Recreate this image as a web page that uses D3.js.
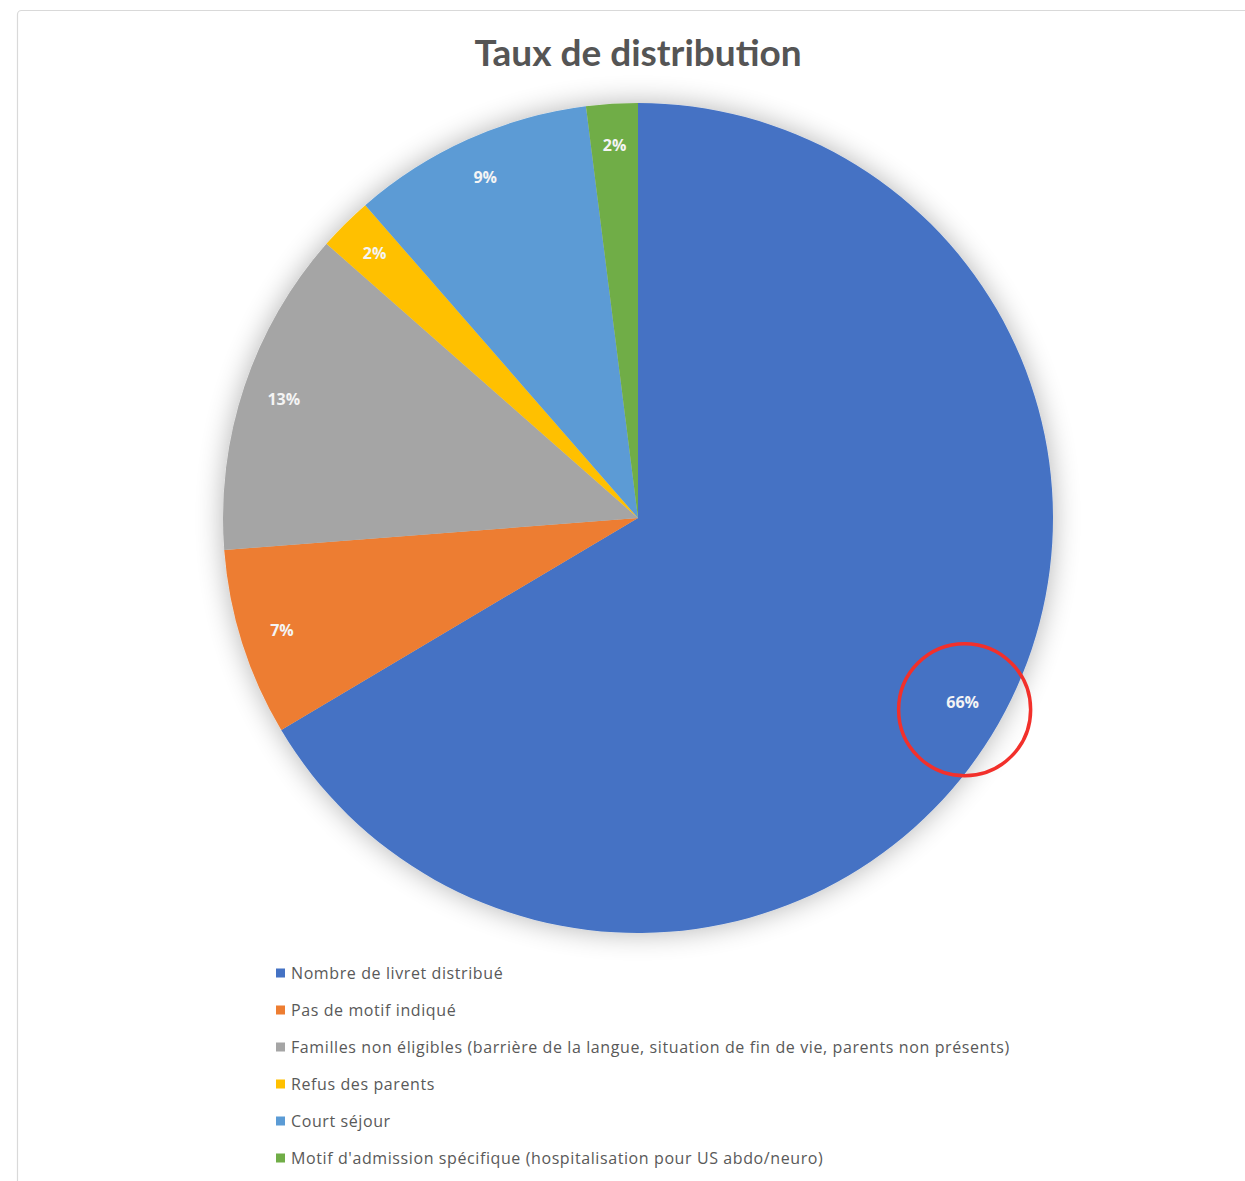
<!DOCTYPE html>
<html>
<head>
<meta charset="utf-8">
<script src="https://cdn.jsdelivr.net/npm/d3@7"></script>
<style>
  body { margin: 0; background: #fff; }
  svg { display: block; }
</style>
</head>
<body>
<div id="chart"></div>
<script>
// values (share of the total, in %)
const categories = [
  "Nombre de livret distribué",
  "Pas de motif indiqué",
  "Familles non éligibles (barrière de la langue, situation de fin de vie, parents non présents)",
  "Refus des parents",
  "Court séjour",
  "Motif d'admission spécifique (hospitalisation pour US abdo/neuro)"
];
const values = [66.4, 7.3, 12.7, 2.1, 9.4, 2.0];
const colors = ["#4472C4", "#ED7D31", "#A5A5A5", "#FFC000", "#5B9BD5", "#70AD47"];
const title = "Taux de distribution";

let w = 1245;
let h = 1181;
let cx = 638, cy = 518, r = 415;

const svg = d3.select("#chart")
              .append("svg")
              .attr("width", w)
              .attr("height", h);

const defs = svg.append("defs");
const shadow = defs.append("filter")
                   .attr("id", "glow")
                   .attr("x", "-20%").attr("y", "-20%")
                   .attr("width", "140%").attr("height", "140%");
shadow.append("feGaussianBlur").attr("in", "SourceAlpha").attr("stdDeviation", 14).attr("result", "b");
shadow.append("feComponentTransfer").attr("in", "b").attr("result", "s")
      .append("feFuncA").attr("type", "linear").attr("slope", 0.3);
const merge = shadow.append("feMerge");
merge.append("feMergeNode").attr("in", "s");
merge.append("feMergeNode").attr("in", "SourceGraphic");

// chart frame
svg.append("rect")
   .attr("x", 17.5).attr("y", 10.5)
   .attr("width", w + 20).attr("height", h + 20)
   .attr("rx", 4)
   .attr("fill", "#fff")
   .attr("stroke", "#d9d9d9")
   .attr("stroke-width", 1.2);

svg.append("text")
   .attr("x", cx)
   .attr("y", 66)
   .attr("text-anchor", "middle")
   .attr("font-family", "Lato, 'Open Sans', sans-serif")
   .attr("font-weight", "bold")
   .attr("font-size", 37)
   .attr("fill", "#555555")
   .text(title);

const total = d3.sum(values);
const pie = d3.pie().sort(null).value(d => d);
const arcs = pie(values);
const arc = d3.arc().innerRadius(0).outerRadius(r);
const labelArc = d3.arc().innerRadius(r * 0.9).outerRadius(r * 0.9);

const g = svg.append("g")
             .attr("transform", "translate(" + cx + "," + cy + ")");

g.append("g")
 .attr("filter", "url(#glow)")
 .selectAll("path")
 .data(arcs)
 .enter()
 .append("path")
 .attr("d", arc)
 .attr("fill", (d, i) => colors[i]);

g.selectAll(".lbl")
 .data(arcs)
 .enter()
 .append("text")
 .attr("class", "lbl")
 .attr("transform", d => "translate(" + labelArc.centroid(d) + ")")
 .attr("text-anchor", "middle")
 .attr("dy", "0.35em")
 .attr("font-family", "'Open Sans', Lato, sans-serif")
 .attr("font-weight", "bold")
 .attr("font-size", 16)
 .attr("fill", "#f4f4f4")
 .text(d => Math.round(d.value / total * 100) + "%");

// red highlight circle around the biggest slice label
const c0 = labelArc.centroid(arcs[0]);
g.append("circle")
 .attr("cx", c0[0] + 2)
 .attr("cy", c0[1] + 7)
 .attr("r", 66)
 .attr("fill", "none")
 .attr("stroke", "#f2302b")
 .attr("stroke-width", 3.5);

// legend
const legend = svg.append("g")
                  .attr("transform", "translate(276, 973)");

const item = legend.selectAll("g")
                   .data(categories)
                   .enter()
                   .append("g")
                   .attr("transform", (d, i) => "translate(0," + i * 37 + ")");

item.append("rect")
    .attr("x", 0).attr("y", -4.5)
    .attr("width", 9).attr("height", 9)
    .attr("fill", (d, i) => colors[i]);

item.append("text")
    .attr("x", 15)
    .attr("dy", "0.35em")
    .attr("font-family", "'Open Sans', Lato, sans-serif")
    .attr("font-size", 16)
    .attr("letter-spacing", 0.6)
    .attr("fill", "#595959")
    .text(d => d);
</script>
</body>
</html>
